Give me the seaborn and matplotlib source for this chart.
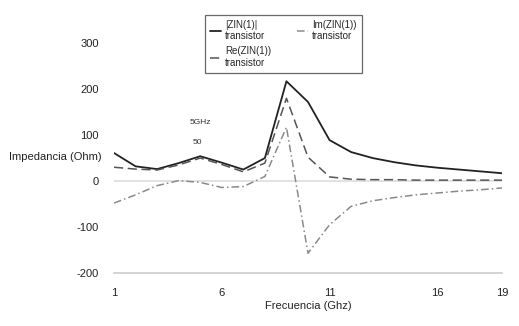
import pandas as pd
import matplotlib
matplotlib.use("Agg")
import matplotlib.pyplot as plt
import seaborn as sns

# data (GHz vs Ohm)
freq = list(range(1, 20))
zin_abs = [61, 32, 26, 39, 54, 40, 25, 50, 217, 172, 89, 63, 50, 41, 34, 29, 25, 21, 17]
zin_re = [30, 26, 24, 35, 50, 36, 20, 39, 180, 52, 9, 4, 3, 3, 2, 2, 2, 2, 2]
zin_im = [-48, -30, -10, 1, -3, -14, -12, 10, 117, -157, -95, -55, -43, -36, -30, -26, -22, -19, -15]
x_ticks = [1, 6, 11, 16, 19]
y_ticks = [-200, -100, 0, 100, 200, 300]

df = pd.DataFrame({'f': freq, 'abs': zin_abs, 're': zin_re, 'im': zin_im})

sns.set_style("white")
plt.rcParams['font.family'] = ['Liberation Sans', 'DejaVu Sans']
plt.rcParams['axes.unicode_minus'] = False

fig = plt.figure(figsize=(5.19, 3.26), dpi=100)
ax = fig.add_axes([114/519, 1 - 273/326, 388/519, 263/326])

ax.axhline(0, color='#dddddd', lw=1.2, zorder=0)
sns.lineplot(data=df, x='f', y='abs', ax=ax, color='#222222', lw=1.3,
             label='|ZIN(1)|\ntransistor')
sns.lineplot(data=df, x='f', y='re', ax=ax, color='#555555', lw=1.1,
             dashes=(6, 3), label='Re(ZIN(1))\ntransistor')
sns.lineplot(data=df, x='f', y='im', ax=ax, color='#8a8a8a', lw=1.1,
             dashes=(5, 2, 1, 2), label='Im(ZIN(1))\ntransistor')

# marker annotation at 5 GHz
ax.annotate('50', xy=(5, zin_abs[4]), xytext=(-2, 9), textcoords='offset points',
            ha='center', fontsize=6, color='#333333')
ax.annotate('5GHz', xy=(5, zin_abs[4]), xytext=(0, 23), textcoords='offset points',
            ha='center', fontsize=6, color='#333333')

ax.set_xlim(1, 19)
ax.set_ylim(-200, 372)
ax.set_xticks(x_ticks)
ax.set_yticks(y_ticks)
ax.tick_params(axis='both', length=0, labelsize=8, colors='#222222')
ax.tick_params(axis='x', pad=11)
ax.tick_params(axis='y', pad=11)

for s in ['top', 'right', 'left']:
    ax.spines[s].set_visible(False)
ax.spines['bottom'].set_color('#cccccc')
ax.spines['bottom'].set_linewidth(1.2)

ax.set_xlabel('Frecuencia (Ghz)', fontsize=8, labelpad=2, color='#222222')
ax.set_ylabel('Impedancia (Ohm)', fontsize=8, rotation=0, color='#222222')
ax.yaxis.set_label_coords(-0.152, 0.44)
ax.yaxis.label.set_va('center')
ax.yaxis.label.set_ha('center')

handles, labels = ax.get_legend_handles_labels()
leg = ax.legend(handles, labels, ncol=2, loc='upper left',
                bbox_to_anchor=(86/388, 1.0),
                fontsize=7, handlelength=1.2, handletextpad=0.4,
                columnspacing=2.6, frameon=True, fancybox=False,
                borderpad=0.5, labelspacing=0.5)
leg.get_frame().set_edgecolor('#444444')
leg.get_frame().set_linewidth(0.9)

fig.savefig('out.png', dpi=100)
